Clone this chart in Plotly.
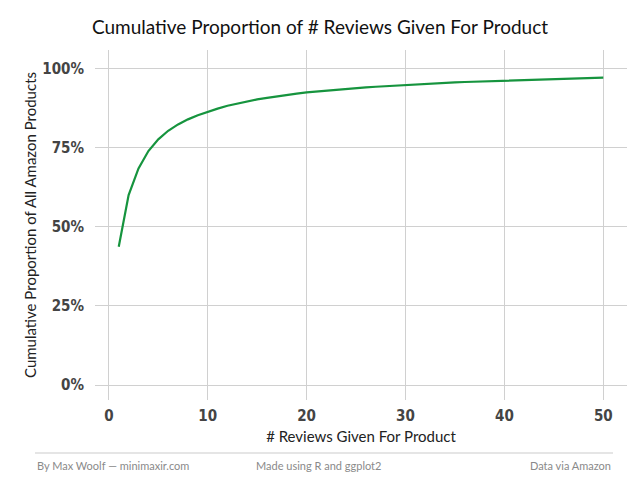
import plotly.graph_objects as go

reviews = list(range(1, 51))
cum_prop = [0.437, 0.600, 0.684, 0.739, 0.776, 0.803, 0.823, 0.839, 0.852, 0.863,
            0.873, 0.882, 0.889, 0.896, 0.902, 0.907, 0.912, 0.916, 0.920, 0.924,
            0.927, 0.930, 0.933, 0.935, 0.938, 0.940, 0.942, 0.944, 0.946, 0.948,
            0.950, 0.951, 0.953, 0.954, 0.956, 0.957, 0.958, 0.959, 0.960, 0.961,
            0.962, 0.963, 0.964, 0.965, 0.966, 0.967, 0.968, 0.969, 0.970, 0.971]
x_ticks = [0, 10, 20, 30, 40, 50]
y_ticks = [0, 0.25, 0.5, 0.75, 1.0]
y_tick_labels = ["0%", "25%", "50%", "75%", "100%"]

W, H = 640, 480
L, R, T, B = 95, 627, 50, 400

fig = go.Figure()
fig.add_trace(go.Scatter(x=reviews, y=cum_prop, mode="lines",
                         line=dict(color="#16943e", width=2.2), hoverinfo="skip"))

tickfont = dict(family="Liberation Sans Narrow, DejaVu Sans Condensed, Arial Narrow, sans-serif",
                size=15, color="#444444", weight="bold")

fig.update_layout(
    width=W, height=H,
    margin=dict(l=L, r=W - R, t=T, b=H - B),
    paper_bgcolor="white", plot_bgcolor="white",
    showlegend=False,
    font=dict(family="Lato, Open Sans, sans-serif", color="#222222"),
    title=dict(text="Cumulative Proportion of # Reviews Given For Product",
               x=0.5, xref="container", xanchor="center",
               y=1 - 27 / H, yref="container", yanchor="middle",
               font=dict(family="Lato, Open Sans, sans-serif", size=19, color="#111111")),
    xaxis=dict(range=[-1.4, 52.4], tickvals=x_ticks, showgrid=True, gridcolor="#d0d0d0",
               gridwidth=1.2, zeroline=False, showline=False, ticks="",
               tickfont=tickfont, ticklabelstandoff=5,
               title=dict(text="# Reviews Given For Product", standoff=7,
                          font=dict(family="Lato, Open Sans, sans-serif", size=15, color="#222222"))),
    yaxis=dict(range=[-0.047, 1.058], tickvals=y_ticks, ticktext=y_tick_labels,
               showgrid=True, gridcolor="#d0d0d0", gridwidth=1.2, zeroline=False,
               showline=False, ticks="", tickfont=tickfont, ticklabelstandoff=10,
               title=dict(text="Cumulative Proportion of All Amazon Products", standoff=2,
                          font=dict(family="Lato, Open Sans, sans-serif", size=15, color="#222222"))),
)

pw, ph = R - L, B - T
def px(x):
    return (x - L) / pw
def py(y):
    return (B - y) / ph

fig.add_shape(type="line", xref="paper", yref="paper",
              x0=px(35), x1=px(613), y0=py(453), y1=py(453),
              line=dict(color="#cccccc", width=1.2))

foot = dict(family="Lato, Open Sans, sans-serif", size=11, color="#8a8a8a")
fig.add_annotation(text="By Max Woolf — minimaxir.com", xref="paper", yref="paper",
                   x=px(35), y=py(465), xanchor="left", yanchor="middle", showarrow=False, font=foot)
fig.add_annotation(text="Made using R and ggplot2", xref="paper", yref="paper",
                   x=px(318), y=py(465), xanchor="center", yanchor="middle", showarrow=False, font=foot)
fig.add_annotation(text="Data via Amazon", xref="paper", yref="paper",
                   x=px(613), y=py(465), xanchor="right", yanchor="middle", showarrow=False, font=foot)

fig.write_html("out.html")
